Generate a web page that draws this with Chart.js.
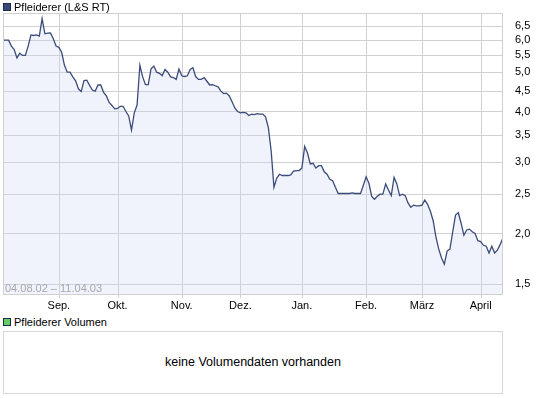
<!DOCTYPE html>
<html>
<head>
<meta charset="utf-8">
<script src="https://cdn.jsdelivr.net/npm/chart.js@4.4.0/dist/chart.umd.min.js"></script>
<style>
html,body{margin:0;padding:0;background:#fff;}
body{width:545px;height:398px;position:relative;overflow:hidden;font-family:"Liberation Sans",Arial,sans-serif;color:#000;}
#c{position:absolute;left:0;top:0;}
.sq{position:absolute;width:6px;height:6px;border:1px solid #1f2a44;}
.txt{position:absolute;font-size:11px;line-height:12px;white-space:nowrap;}
#volbox{position:absolute;left:3px;top:331px;width:498px;height:61px;border:1px solid #d6d6d6;}
#volmsg{position:absolute;left:0;right:0;top:23px;text-align:center;font-size:12.5px;line-height:14px;}
#range{position:absolute;left:5px;top:282px;font-size:11px;line-height:12px;color:#a8a8a8;white-space:nowrap;}
</style>
</head>
<body>
<canvas id="c" width="545" height="315"></canvas>
<div class="sq" style="left:3px;top:3px;background:#3a4a78;"></div>
<div class="txt" style="left:14px;top:1px;">Pfleiderer (L&amp;S RT)</div>
<div id="range">04.08.02 – 11.04.03</div>
<div class="sq" style="left:3px;top:318px;background:#66cc66;"></div>
<div class="txt" style="left:14px;top:316px;">Pfleiderer Volumen</div>
<div id="volbox"><div id="volmsg">keine Volumendaten vorhanden</div></div>
<script>
// trading-day index 0 = 05.08.2002 ... 179 = 11.04.2003
const monthTickDays = [20, 41, 64, 85, 107, 130, 150, 171];
const monthLabels = ['Sep.', 'Okt.', 'Nov.', 'Dez.', 'Jan.', 'Feb.', 'März', 'April'];
const priceTicks = [1.5, 2.0, 2.5, 3.0, 3.5, 4.0, 4.5, 5.0, 5.5, 6.0, 6.5];
const prices = [
  6.00, 6.00, 6.00, 5.80, 5.69, 5.42, 5.57, 5.50, 5.50, 5.80,
  6.18, 6.16, 6.18, 6.14, 6.78, 6.22, 6.24, 6.25, 6.05, 5.80,
  5.76, 5.60, 5.20, 5.00, 5.00, 4.87, 4.76, 4.55, 4.48, 4.77,
  4.78, 4.64, 4.52, 4.49, 4.65, 4.65, 4.46, 4.37, 4.21, 4.14,
  4.06, 4.07, 4.12, 4.12, 4.00, 3.90, 3.60, 3.97, 4.15, 5.20,
  4.87, 4.66, 4.66, 5.10, 5.18, 5.00, 4.97, 4.90, 5.08, 5.00,
  4.87, 4.85, 4.80, 5.09, 4.90, 4.88, 4.90, 5.08, 5.13, 4.87,
  4.80, 4.80, 4.85, 4.75, 4.65, 4.66, 4.63, 4.60, 4.49, 4.43,
  4.44, 4.37, 4.23, 4.08, 4.00, 3.97, 3.98, 3.97, 3.91, 3.94,
  3.93, 3.95, 3.94, 3.94, 3.88, 3.65, 3.20, 2.60, 2.74, 2.80,
  2.78, 2.78, 2.78, 2.79, 2.85, 2.86, 2.86, 2.90, 3.28, 3.16,
  2.97, 2.98, 2.90, 2.94, 2.94, 2.84, 2.80, 2.72, 2.70, 2.60,
  2.51, 2.51, 2.51, 2.51, 2.51, 2.52, 2.51, 2.51, 2.51, 2.63,
  2.76, 2.66, 2.47, 2.43, 2.47, 2.50, 2.50, 2.65, 2.56, 2.48,
  2.75, 2.65, 2.48, 2.50, 2.48, 2.38, 2.32, 2.35, 2.34, 2.34,
  2.35, 2.42, 2.36, 2.27, 2.15, 1.96, 1.83, 1.74, 1.68, 1.81,
  1.83, 2.02, 2.22, 2.25, 2.12, 1.98, 2.04, 2.05, 2.02, 2.00,
  1.92, 1.91, 1.87, 1.86, 1.79, 1.86, 1.79, 1.82, 1.88, 1.95
];
const days = prices.map((_, i) => i);

const GRID = '#d0d0d0';

// grid lines at the scales' tick positions (drawn before the data) and a frame
const gridFrame = {
  id: 'gridFrame',
  beforeDatasetsDraw(chart) {
    const a = chart.chartArea, ctx = chart.ctx;
    const xs = chart.scales.x, ys = chart.scales.y;
    ctx.save();
    ctx.strokeStyle = GRID;
    ctx.lineWidth = 1;
    ctx.beginPath();
    xs.ticks.forEach(t => {
      const px = Math.round(xs.getPixelForValue(t.value)) + 0.5;
      ctx.moveTo(px, a.top);
      ctx.lineTo(px, a.bottom + 3);
    });
    ys.ticks.forEach(t => {
      const py = Math.round(ys.getPixelForValue(t.value)) + 0.5;
      ctx.moveTo(a.left, py);
      ctx.lineTo(a.right, py);
    });
    ctx.stroke();
    ctx.restore();
  },
  afterDraw(chart) {
    const a = chart.chartArea, ctx = chart.ctx;
    ctx.save();
    ctx.strokeStyle = GRID;
    ctx.lineWidth = 1;
    ctx.strokeRect(Math.round(a.left) + 0.5, Math.round(a.top) + 0.5,
                   Math.round(a.right - a.left) - 1, Math.round(a.bottom - a.top) - 1);
    ctx.restore();
  }
};

const font = { family: '"Liberation Sans", Arial, sans-serif', size: 11 };

new Chart(document.getElementById('c'), {
  type: 'line',
  data: {
    datasets: [{
      data: days.map((d, i) => ({ x: d, y: prices[i] })),
      borderColor: '#3b4c7b',
      borderWidth: 1.3,
      pointRadius: 0,
      tension: 0,
      fill: 'start',
      backgroundColor: 'rgba(205,214,243,0.3)'
    }]
  },
  options: {
    responsive: false,
    animation: false,
    events: [],
    layout: { padding: { left: 3, top: 13, right: 0, bottom: 0 } },
    plugins: { legend: { display: false }, tooltip: { enabled: false } },
    scales: {
      x: {
        type: 'linear',
        min: 0,
        max: days[days.length - 1],
        afterBuildTicks: s => { s.ticks = monthTickDays.map(v => ({ value: v })); },
        afterFit: s => { s.height = 20; },
        grid: { drawOnChartArea: false, drawTicks: true, tickLength: 3, color: 'rgba(0,0,0,0)' },
        border: { display: false },
        ticks: {
          padding: 1, maxRotation: 0, autoSkip: false, color: '#000', font,
          callback: v => monthLabels[monthTickDays.indexOf(v)]
        }
      },
      y: {
        type: 'logarithmic',
        position: 'right',
        min: 1.41,
        max: 7.0,
        afterBuildTicks: s => { s.ticks = priceTicks.map(v => ({ value: v })); },
        afterFit: s => { s.width = 42; },
        grid: { display: false },
        border: { display: false },
        ticks: {
          padding: 4, autoSkip: false, color: '#000', font,
          callback: v => Number(v).toFixed(1).replace('.', ',')
        }
      }
    }
  },
  plugins: [gridFrame]
});
</script>
</body>
</html>
